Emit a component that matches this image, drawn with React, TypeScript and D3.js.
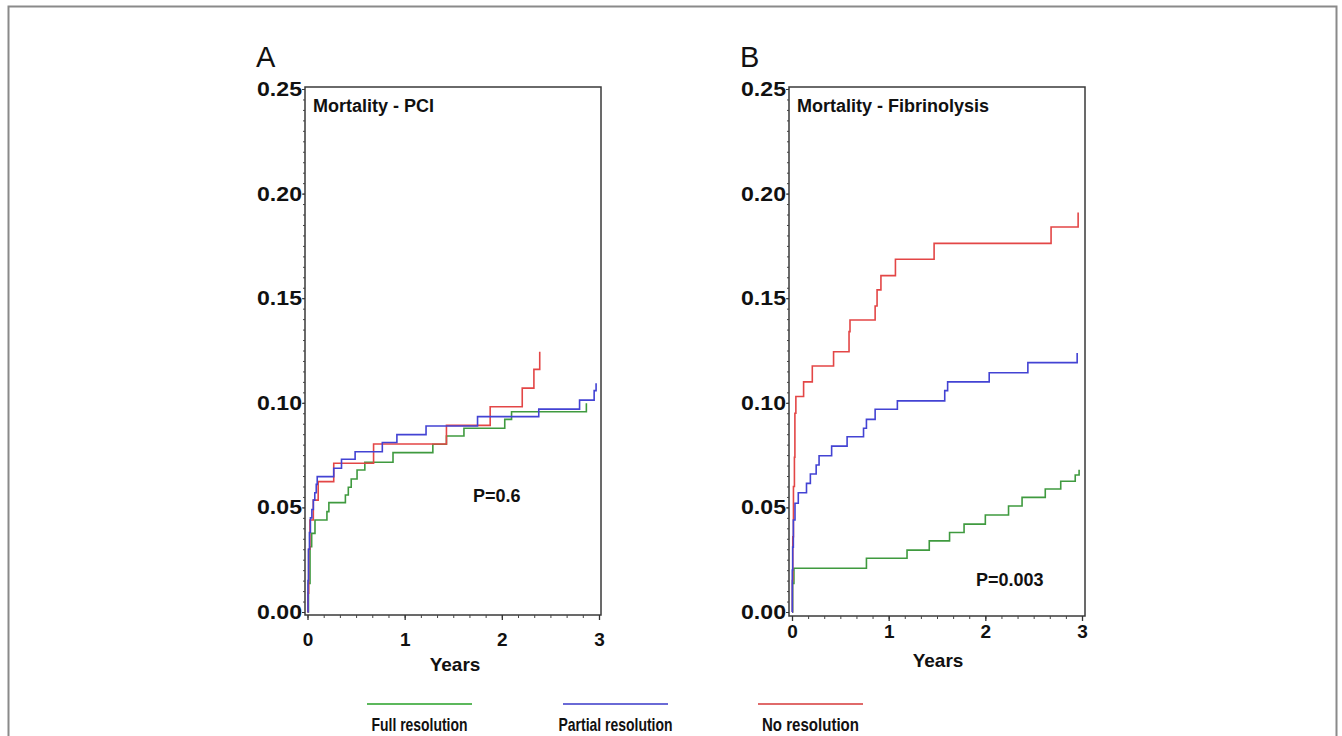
import React, { useEffect, useRef } from 'react';
import * as d3 from 'd3';

const W = 1342;
const H = 736;

const colors = {
  full: '#3f9a3f',
  partial: '#4343d3',
  none: '#e34646'
};

const legendColors = ['#5cb85c', '#6a6ad6', '#e06a6a'];
const legendLabels = ['Full resolution', 'Partial resolution', 'No resolution'];

const yTicks = [0, 0.05, 0.1, 0.15, 0.2, 0.25];
const xTicks = [0, 1, 2, 3];

// Panel A: PCI (years, cumulative mortality at each step)
const pciFullYears = [0, 0.01, 0.026, 0.043, 0.077, 0.2, 0.22, 0.39, 0.42, 0.45, 0.51, 0.59, 0.88, 1.29, 1.43, 1.61, 2.03, 2.1, 2.87];
const pciFullRisk = [0, 0.0137, 0.0312, 0.0376, 0.044, 0.048, 0.0523, 0.0559, 0.0596, 0.0636, 0.0679, 0.0716, 0.0762, 0.0802, 0.0841, 0.0878, 0.0921, 0.0957, 0.0998];

const pciPartialYears = [0, 0.005, 0.01, 0.02, 0.03, 0.045, 0.06, 0.075, 0.09, 0.1, 0.27, 0.35, 0.49, 0.77, 0.92, 1.22, 1.75, 2.38, 2.8, 2.95, 2.97];
const pciPartialRisk = [0, 0.015, 0.03, 0.038, 0.045, 0.049, 0.0535, 0.057, 0.061, 0.0647, 0.0687, 0.073, 0.0766, 0.081, 0.0848, 0.0889, 0.0934, 0.097, 0.1013, 0.1058, 0.1093];

const pciNoneYears = [0, 0.005, 0.012, 0.025, 0.06, 0.11, 0.27, 0.68, 1.43, 1.88, 2.21, 2.33, 2.39];
const pciNoneRisk = [0, 0.009, 0.03, 0.044, 0.0535, 0.0623, 0.0711, 0.0803, 0.0892, 0.0981, 0.107, 0.116, 0.1244];

// Panel B: Fibrinolysis
const fibFullYears = [0, 0.007, 0.02, 0.77, 1.19, 1.42, 1.63, 1.78, 2.0, 2.24, 2.38, 2.62, 2.78, 2.93, 2.97];
const fibFullRisk = [0, 0.0137, 0.0209, 0.0257, 0.0296, 0.034, 0.038, 0.042, 0.0464, 0.0507, 0.0548, 0.0588, 0.0625, 0.0655, 0.068];

const fibPartialYears = [0, 0.003, 0.007, 0.014, 0.031, 0.065, 0.15, 0.19, 0.25, 0.28, 0.41, 0.57, 0.74, 0.77, 0.86, 1.09, 1.58, 1.61, 2.04, 2.44, 2.95];
const fibPartialRisk = [0, 0.02, 0.031, 0.044, 0.052, 0.057, 0.0615, 0.066, 0.0703, 0.0747, 0.0793, 0.0838, 0.0878, 0.0921, 0.0969, 0.1009, 0.1058, 0.11, 0.1144, 0.1192, 0.1238];

const fibNoneYears = [0, 0.004, 0.008, 0.015, 0.025, 0.03, 0.04, 0.12, 0.21, 0.43, 0.59, 0.6, 0.86, 0.88, 0.92, 1.07, 1.47, 2.68, 2.96];
const fibNoneRisk = [0, 0.015, 0.036, 0.06, 0.074, 0.095, 0.103, 0.11, 0.1176, 0.1244, 0.134, 0.1396, 0.1463, 0.154, 0.1608, 0.1686, 0.1762, 0.184, 0.191];

const panels = [
  {
    letter: 'A', title: 'Mortality - PCI', pText: 'P=0.6',
    left: 305, right: 601, top: 87, bottom: 615,
    x0: 307.5, x3: 599, y0: 612, y25: 89,
    xPad: 13, yearsX: 455, yearsY: 671, pX: 473, pY: 502,
    series: [
      { years: pciFullYears, risk: pciFullRisk, color: colors.full },
      { years: pciNoneYears, risk: pciNoneRisk, color: colors.none },
      { years: pciPartialYears, risk: pciPartialRisk, color: colors.partial }
    ]
  },
  {
    letter: 'B', title: 'Mortality - Fibrinolysis', pText: 'P=0.003',
    left: 789, right: 1085, top: 87, bottom: 616,
    x0: 792, x3: 1082, y0: 612, y25: 89,
    xPad: 4, yearsX: 938, yearsY: 667, pX: 976, pY: 586,
    series: [
      { years: fibFullYears, risk: fibFullRisk, color: colors.full },
      { years: fibNoneYears, risk: fibNoneRisk, color: colors.none },
      { years: fibPartialYears, risk: fibPartialRisk, color: colors.partial }
    ]
  }
];

const FONT = "'Liberation Sans', Arial, Helvetica, sans-serif";

function drawPanel(g: any, p: any) {
  const x = d3.scaleLinear().domain([0, 3]).range([p.x0, p.x3]);
  const y = d3.scaleLinear().domain([0, 0.25]).range([p.y0, p.y25]);

  g.append('text')
    .attr('x', p.left - 49)
    .attr('y', 67)
    .attr('font-family', FONT)
    .attr('font-size', 29)
    .attr('fill', '#111')
    .text(p.letter);

  g.append('rect')
    .attr('x', p.left)
    .attr('y', p.top)
    .attr('width', p.right - p.left)
    .attr('height', p.bottom - p.top)
    .attr('fill', '#fff')
    .attr('stroke', '#3a3a3a')
    .attr('stroke-width', 1.5);

  // minor y ticks
  g.append('g')
    .attr('transform', 'translate(' + p.left + ',0)')
    .call(d3.axisLeft(y).tickValues(d3.range(0, 0.2501, 0.005)).tickSize(2).tickFormat(() => ''))
    .call((s: any) => s.select('.domain').remove())
    .call((s: any) => s.selectAll('line').attr('stroke', '#444'));

  // major y ticks
  g.append('g')
    .attr('transform', 'translate(' + p.left + ',0)')
    .call(d3.axisLeft(y).tickValues(yTicks).tickSize(3).tickPadding(0).tickFormat(d3.format('.2f')))
    .call((s: any) => s.select('.domain').remove())
    .call((s: any) => s.selectAll('line').attr('stroke', '#333'))
    .call((s: any) => s.selectAll('text')
      .attr('font-family', FONT)
      .attr('font-weight', 'bold')
      .attr('font-size', 20)
      .attr('fill', '#111')
      .attr('textLength', 45)
      .attr('lengthAdjust', 'spacingAndGlyphs'));

  // minor x ticks
  g.append('g')
    .attr('transform', 'translate(0,' + p.bottom + ')')
    .call(d3.axisBottom(x).tickValues(d3.range(0, 3.001, 1 / 6)).tickSize(3).tickFormat(() => ''))
    .call((s: any) => s.select('.domain').remove())
    .call((s: any) => s.selectAll('line').attr('stroke', '#444'));

  // major x ticks
  g.append('g')
    .attr('transform', 'translate(0,' + p.bottom + ')')
    .call(d3.axisBottom(x).tickValues(xTicks).tickSize(5).tickPadding(p.xPad).tickFormat(d3.format('d')))
    .call((s: any) => s.select('.domain').remove())
    .call((s: any) => s.selectAll('line').attr('stroke', '#333').attr('stroke-width', 1.3))
    .call((s: any) => s.selectAll('text')
      .attr('font-family', FONT)
      .attr('font-weight', 'bold')
      .attr('font-size', 19)
      .attr('fill', '#111'));

  g.append('text')
    .attr('x', p.yearsX)
    .attr('y', p.yearsY)
    .attr('text-anchor', 'middle')
    .attr('font-family', FONT)
    .attr('font-weight', 'bold')
    .attr('font-size', 19)
    .attr('fill', '#111')
    .text('Years');

  g.append('text')
    .attr('x', p.left + 8)
    .attr('y', 112)
    .attr('font-family', FONT)
    .attr('font-weight', 'bold')
    .attr('font-size', 18)
    .attr('fill', '#111')
    .text(p.title);

  const line = d3.line<[number, number]>()
    .x((d) => x(d[0]))
    .y((d) => y(d[1]))
    .curve(d3.curveStepAfter);

  p.series.forEach((s: any) => {
    g.append('path')
      .attr('d', line(d3.zip(s.years, s.risk) as [number, number][]))
      .attr('fill', 'none')
      .attr('stroke', s.color)
      .attr('stroke-width', 1.6);
  });

  g.append('text')
    .attr('x', p.pX)
    .attr('y', p.pY)
    .attr('font-family', FONT)
    .attr('font-weight', 'bold')
    .attr('font-size', 18)
    .attr('fill', '#111')
    .text(p.pText);
}

export default function App() {
  const ref = useRef<SVGSVGElement>(null);

  useEffect(() => {
    const svg = d3.select(ref.current);
    svg.selectAll('*').remove();

    svg.append('rect').attr('width', W).attr('height', H).attr('fill', '#fff');

    // outer frame
    svg.append('path')
      .attr('d', 'M8.5,' + H + 'V6.5H1336.5V' + H)
      .attr('fill', 'none')
      .attr('stroke', '#8a8a8a')
      .attr('stroke-width', 2);

    panels.forEach((p) => drawPanel(svg.append('g'), p));

    // legend
    const legendX = [367, 563, 758];
    const legendW = [96, 114, 97];
    legendLabels.forEach((label, i) => {
      svg.append('line')
        .attr('x1', legendX[i])
        .attr('x2', legendX[i] + 105)
        .attr('y1', 704)
        .attr('y2', 704)
        .attr('stroke', legendColors[i])
        .attr('stroke-width', 2);
      svg.append('text')
        .attr('x', legendX[i] + 52.5)
        .attr('y', 731)
        .attr('text-anchor', 'middle')
        .attr('font-family', FONT)
        .attr('font-weight', 'bold')
        .attr('font-size', 19)
        .attr('fill', '#111')
        .attr('textLength', legendW[i])
        .attr('lengthAdjust', 'spacingAndGlyphs')
        .text(label);
    });
  }, []);

  return (
    <svg
      ref={ref}
      width={W}
      height={H}
      style={{ position: 'absolute', left: 0, top: 0 }}
    />
  );
}
